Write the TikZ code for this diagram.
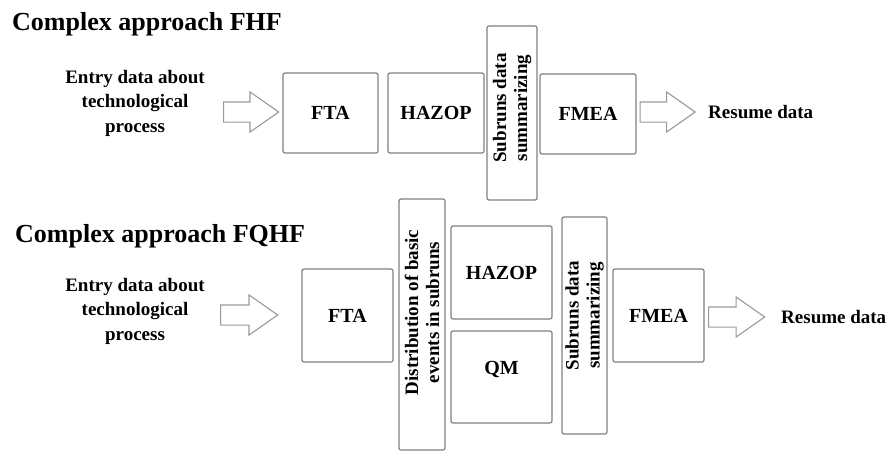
\documentclass[tikz,border=0pt]{standalone}
\usepackage{fontspec}
\setmainfont{Liberation Serif}
\usetikzlibrary{shapes.arrows}

\begin{document}
\begin{tikzpicture}[x=1pt,y=-1pt,
  box/.style={draw=black!50,line width=1.2pt,rounded corners=2pt,inner sep=0pt,
    font=\fontsize{20}{22}\selectfont\bfseries},
  sidebox/.style={box,rotate=90,align=center,font=\fontsize{19}{21}\selectfont\bfseries},
  sidetxt/.style={rotate=90,align=center,inner sep=0pt,font=\fontsize{19}{21}\selectfont\bfseries},
  fat/.style={single arrow,draw=black!40,line width=1.1pt,inner sep=9.5pt,
    single arrow head extend=10pt,single arrow tip angle=70,
    minimum width=39pt,minimum height=55pt},
  txt/.style={align=center,inner sep=0pt,font=\fontsize{19}{24.5}\selectfont\bfseries},
  ttl/.style={anchor=base west,inner sep=0pt,font=\fontsize{26}{28}\selectfont\bfseries}]
\useasboundingbox (0,0) rectangle (893,453);

% FHF
\node[ttl] (t1) at (12,30) {Complex approach FHF};
\node[txt] (in1) at (135,103) {Entry data about\\technological\\process};
\node[fat] (a1) at (244,112) {};
\node[box,minimum width=95pt,minimum height=80pt] (fta1) at (330.5,113) {FTA};
\node[box,minimum width=96pt,minimum height=80pt] (haz1) at (436,113) {HAZOP};
\node[sidebox,minimum width=174pt,minimum height=50pt] (sub1) at (512,113) {};
\node[sidetxt] (sub1-t) at ([yshift=5pt]sub1.center) {Subruns data\\summarizing};
\node[box,minimum width=96pt,minimum height=80pt] (fmea1) at (588,114) {FMEA};
\node[fat] (a2) at (660.5,112) {};
\node[txt,anchor=west] (res1) at (708,112) {Resume data};

% FQHF
\node[ttl] (t2) at (15,242) {Complex approach FQHF};
\node[txt] (in2) at (135,311) {Entry data about\\technological\\process};
\node[fat,minimum height=57pt] (a3) at (242,315) {};
\node[box,minimum width=91pt,minimum height=93pt] (fta2) at (347.5,315.5) {FTA};
\node[sidebox,minimum width=251pt,minimum height=46pt] (dist) at (422,324.5) {};
\node[sidetxt] (dist-t) at ([yshift=12pt]dist.center) {Distribution of basic\\events in subruns};
\node[box,minimum width=101pt,minimum height=93pt] (haz2) at (501.5,272.5) {HAZOP};
\node[box,minimum width=101pt,minimum height=92pt] (qm) at (501.5,377) {};
\node[box,draw=none] (qm-t) at ([yshift=8pt]qm.center) {QM};
\node[sidebox,minimum width=217pt,minimum height=45pt] (sub2) at (584.5,325.5) {};
\node[sidetxt] (sub2-t) at ([yshift=10pt]sub2.center) {Subruns data\\summarizing};
\node[box,minimum width=91pt,minimum height=93pt] (fmea2) at (658.5,315.5) {FMEA};
\node[fat,minimum height=56pt] (a4) at (729.5,317) {};
\node[txt,anchor=west] (res2) at (781,317) {Resume data};
\end{tikzpicture}
\end{document}
